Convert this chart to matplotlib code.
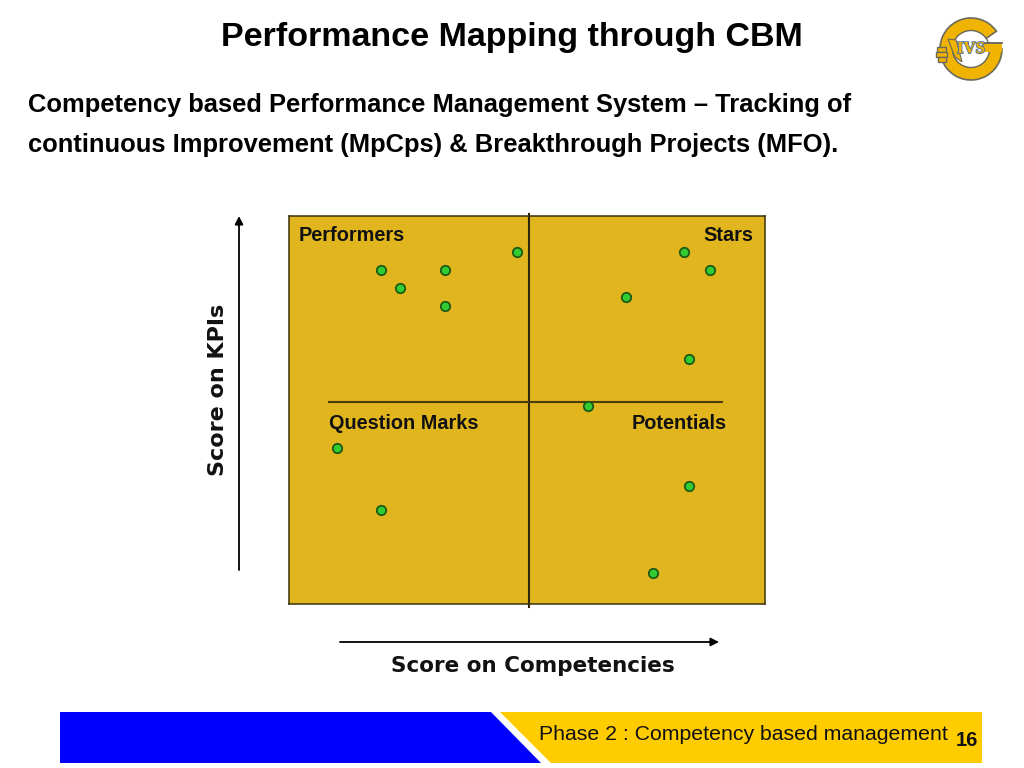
import matplotlib
matplotlib.use("Agg")
import matplotlib.pyplot as plt
import matplotlib.patheffects as pe
from matplotlib.patches import Polygon, Rectangle, Circle, Wedge

plt.rcParams['font.family'] = ['Liberation Sans', 'DejaVu Sans']

# scores, in % of each axis
perf_x = [47.9, 19.3, 32.8, 23.3, 32.8]
perf_y = [90.7, 86.1, 86.1, 81.5, 76.8]
star_x = [83.0, 88.4, 70.8, 84.0]
star_y = [90.7, 86.1, 79.1, 63.1]
pot_x = [62.8, 84.0, 76.4]
pot_y = [51.0, 30.4, 8.0]
qm_x = [10.1, 19.3]
qm_y = [40.2, 24.2]

title = "Performance Mapping through CBM"
subtitle = ["Competency based Performance Management System \u2013 Tracking of",
            "continuous Improvement (MpCps) & Breakthrough Projects (MFO)."]
footer = "Phase 2 : Competency based management"
page_no = "16"

W, H = 1024, 768
fig = plt.figure(figsize=(10.24, 7.68), dpi=100, facecolor="white")

# page layer in pixel coordinates, y going down like the slide
bg = fig.add_axes([0, 0, 1, 1])
bg.set_xlim(0, W)
bg.set_ylim(H, 0)
bg.axis("off")

bg.text(512, 37.5, title, ha="center", va="center", fontsize=24.5, fontweight="bold", color="black")
bg.text(28, 105, subtitle[0], ha="left", va="center", fontsize=18.4, fontweight="bold", color="black")
bg.text(28, 145, subtitle[1], ha="left", va="center", fontsize=18.4, fontweight="bold", color="black")

# footer band
bg.add_patch(Polygon([(60, 712), (491, 712), (541, 763), (60, 763)], fc="#0000ff", ec="none"))
bg.add_patch(Polygon([(500, 712), (982, 712), (982, 763), (551, 763)], fc="#ffcc00", ec="none"))
bg.text(539, 734, footer, ha="left", va="center", fontsize=15.3, color="#111111")
bg.text(966.5, 740, page_no, ha="center", va="center", fontsize=14.5, fontweight="bold", color="#111111")

# logo
logo_edge = "#6b6a5a"
logo_fill = "#f0b400"
bg.add_patch(Wedge((971, 49), 31, 0, 325, width=13, fc=logo_fill, ec=logo_edge, lw=1.2))
bg.add_patch(Rectangle((983, 43), 19, 9, fc=logo_fill, ec="none"))
bg.plot([983, 1002], [43, 43], color=logo_edge, lw=1.1)
bg.add_patch(Circle((971, 49), 18.5, fc="white", ec=logo_edge, lw=1))
bg.add_patch(Rectangle((983, 43), 19, 9, fc=logo_fill, ec="none"))
bg.plot([983, 1002], [43, 43], color=logo_edge, lw=1.1)
bg.add_patch(Rectangle((937, 47), 9, 5, fc=logo_fill, ec=logo_edge, lw=1))
bg.add_patch(Rectangle((936, 52), 11, 5, fc=logo_fill, ec=logo_edge, lw=1))
bg.add_patch(Rectangle((938, 57), 8, 5, fc=logo_fill, ec=logo_edge, lw=1))
bg.add_patch(Polygon([(948, 39), (956, 40), (959, 50), (962, 62), (955, 57), (951, 47)],
                     fc=logo_fill, ec=logo_edge, lw=0.8))
bg.text(971, 49, "IVS", ha="center", va="center", fontsize=12, fontweight="bold",
        color=logo_fill, family="Liberation Serif",
        path_effects=[pe.withStroke(linewidth=1.2, foreground="#4f6f9f")])

# axis arrows and titles
bg.annotate("", xy=(239, 216), xytext=(239, 570),
            arrowprops=dict(arrowstyle="-|>", lw=1.3, color="black", shrinkA=0, shrinkB=0, mutation_scale=12))
bg.annotate("", xy=(719, 642), xytext=(340, 642),
            arrowprops=dict(arrowstyle="-|>", lw=1.3, color="black", shrinkA=0, shrinkB=0, mutation_scale=12))
bg.text(218, 390, "Score on KPIs", rotation=90, ha="center", va="center",
        fontsize=16, fontweight="bold", family="DejaVu Sans", color="#111111")
bg.text(533, 666, "Score on Competencies", ha="center", va="center",
        fontsize=15.5, fontweight="bold", family="DejaVu Sans", color="#111111")

# quadrant chart
ax = fig.add_axes([289 / W, 1 - 604 / H, 476 / W, 388 / H], facecolor="#e0b51e")
ax.set_xlim(0, 100)
ax.set_ylim(0, 100)
ax.set_xticks([])
ax.set_yticks([])
for s in ax.spines.values():
    s.set_color("#3a3008")
    s.set_linewidth(1.1)

for xs, ys in [(perf_x, perf_y), (star_x, star_y), (pot_x, pot_y), (qm_x, qm_y)]:
    ax.scatter(xs, ys, s=46, c="#33cc33", edgecolors="#1d5a14", linewidths=1.3, zorder=3)

# quadrant lines run a little past the frame
ax.plot([50.4, 50.4], [-0.8, 100.5], color="#2e2608", lw=1.5, clip_on=False, zorder=2)
ax.plot([8.4, 91], [52, 52], color="#4a3d0c", lw=1.5, zorder=2)

label_kw = dict(fontsize=14.3, fontweight="bold", va="center", color="#111111")
ax.text(2.1, 95, "Performers", ha="left", **label_kw)
ax.text(97.5, 95, "Stars", ha="right", **label_kw)
ax.text(8.4, 46.4, "Question Marks", ha="left", **label_kw)
ax.text(92, 46.4, "Potentials", ha="right", **label_kw)

fig.savefig("out.png", dpi=100)
